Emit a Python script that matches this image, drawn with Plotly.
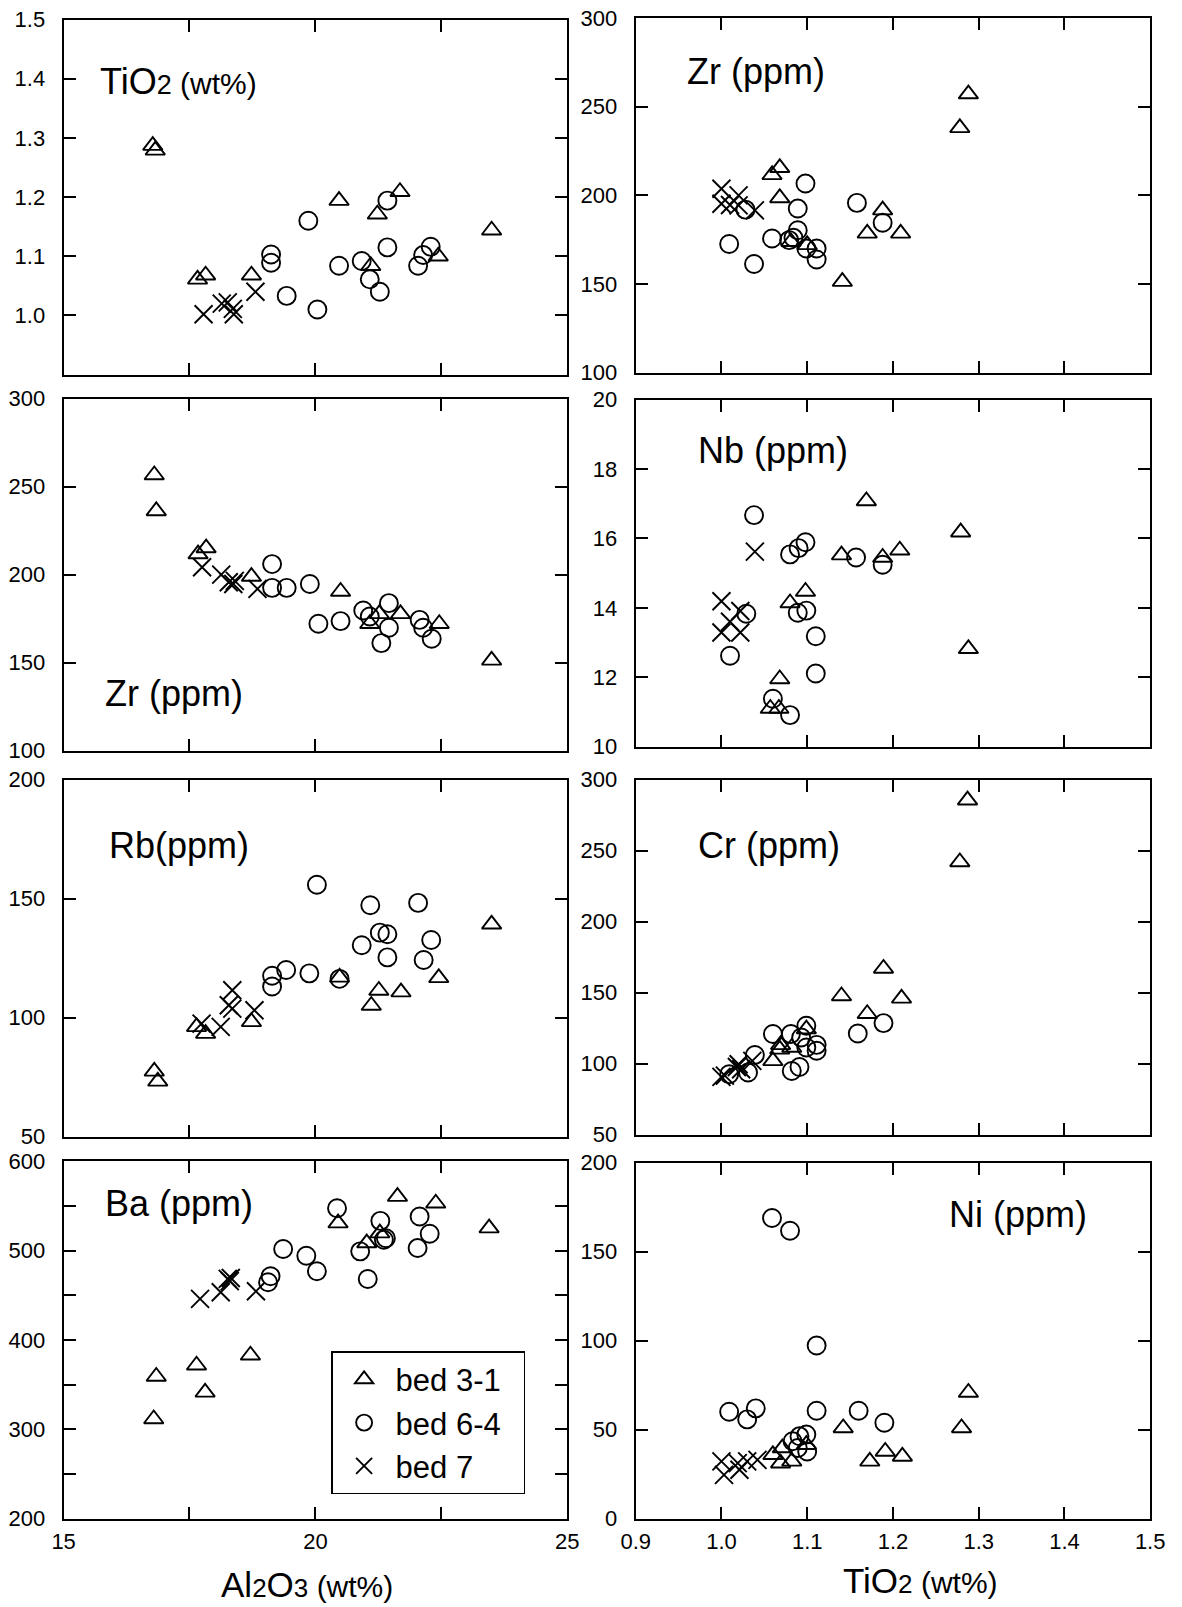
import plotly.graph_objects as go

# ---------------- data ----------------
# Panel: TiO2 (wt%) vs Al2O3 (wt%)
tio2_al_tri_x = [16.77, 16.82, 17.66, 17.82, 18.73, 20.47, 21.10, 21.23, 21.68, 22.44, 23.50]
tio2_al_tri_y = [1.287, 1.279, 1.061, 1.068, 1.068, 1.194, 1.084, 1.171, 1.209, 1.100, 1.144]
tio2_al_cir_x = [19.12, 19.12, 19.43, 19.86, 20.04, 20.47, 20.92, 21.08, 21.28, 21.43, 21.43, 22.04, 22.14, 22.29]
tio2_al_cir_y = [1.103, 1.089, 1.033, 1.160, 1.010, 1.084, 1.092, 1.061, 1.040, 1.194, 1.115, 1.084, 1.102, 1.116]
tio2_al_x_x = [17.78, 18.14, 18.26, 18.36, 18.38, 18.81]
tio2_al_x_y = [1.002, 1.020, 1.022, 1.011, 1.002, 1.040]

# Panel: Zr (ppm) vs Al2O3
zr_al_tri_x = [16.80, 16.84, 17.67, 17.83, 18.73, 20.50, 21.08, 21.27, 21.69, 22.46, 23.50]
zr_al_tri_y = [256.6, 236.2, 211.7, 215.1, 198.9, 190.4, 172.1, 177.7, 177.7, 172.1, 151.3]
zr_al_cir_x = [19.14, 19.14, 19.43, 19.89, 20.06, 20.50, 20.95, 21.08, 21.31, 21.46, 21.46, 22.07, 22.14, 22.31]
zr_al_cir_y = [206.0, 192.5, 192.5, 194.7, 172.1, 173.6, 179.6, 176.2, 161.1, 183.8, 169.8, 174.3, 169.8, 163.6]
zr_al_x_x = [17.75, 18.13, 18.28, 18.37, 18.40, 18.85]
zr_al_x_y = [204.2, 200.0, 195.7, 194.7, 196.5, 191.9]

# Panel: Rb (ppm) vs Al2O3
rb_al_tri_x = [16.80, 16.87, 17.64, 17.82, 18.73, 20.48, 21.11, 21.26, 21.70, 22.45, 23.50]
rb_al_tri_y = [77.4, 73.2, 96.1, 93.3, 98.2, 116.9, 105.1, 111.4, 110.7, 116.7, 139.2]
rb_al_cir_x = [19.14, 19.14, 19.42, 19.88, 20.03, 20.48, 20.92, 21.09, 21.28, 21.43, 21.43, 22.04, 22.15, 22.30]
rb_al_cir_y = [117.6, 113.1, 120.0, 118.6, 155.8, 116.3, 130.4, 147.2, 135.7, 135.0, 125.3, 148.2, 124.2, 132.6]
rb_al_x_x = [17.74, 18.12, 18.28, 18.35, 18.35, 18.79]
rb_al_x_y = [97.5, 96.1, 105.2, 103.8, 111.5, 103.1]

# Panel: Ba (ppm) vs Al2O3
ba_al_tri_x = [16.84, 16.79, 17.64, 17.81, 18.71, 20.45, 21.02, 21.28, 21.63, 22.39, 23.45]
ba_al_tri_y = [359.1, 311.5, 371.7, 341.3, 382.9, 530.9, 508.6, 519.7, 560.6, 553.2, 525.3]
ba_al_cir_x = [19.06, 19.11, 19.36, 19.82, 20.03, 20.43, 20.89, 21.04, 21.29, 21.36, 21.40, 22.03, 22.07, 22.27]
ba_al_cir_y = [464.7, 471.4, 501.9, 494.4, 477.0, 547.6, 499.3, 468.4, 533.5, 512.3, 514.0, 503.0, 538.3, 519.0]
ba_al_x_x = [17.71, 18.12, 18.26, 18.32, 18.30, 18.82]
ba_al_x_y = [446.1, 453.5, 468.4, 469.5, 466.0, 454.6]

# Panel: Zr (ppm) vs TiO2
zr_ti_tri_x = [1.059, 1.068, 1.068, 1.081, 1.100, 1.141, 1.170, 1.188, 1.209, 1.278, 1.288]
zr_ti_tri_y = [211.5, 215.5, 198.5, 173.8, 172.0, 151.3, 178.5, 191.6, 178.5, 238.0, 257.1]
zr_ti_cir_x = [1.009, 1.028, 1.038, 1.059, 1.079, 1.084, 1.089, 1.089, 1.098, 1.099, 1.111, 1.111, 1.158, 1.188]
zr_ti_cir_y = [172.5, 191.9, 161.2, 175.6, 174.7, 176.0, 192.5, 180.3, 206.6, 170.0, 170.0, 163.8, 195.7, 184.5]
zr_ti_x_x = [1.000, 1.000, 1.010, 1.020, 1.020, 1.039]
zr_ti_x_y = [203.7, 195.2, 194.5, 199.9, 194.3, 191.5]

# Panel: Nb (ppm) vs TiO2
nb_ti_tri_x = [1.068, 1.057, 1.067, 1.080, 1.098, 1.140, 1.169, 1.188, 1.208, 1.279, 1.288]
nb_ti_tri_y = [11.95, 11.10, 11.10, 14.14, 14.47, 15.52, 17.08, 15.45, 15.66, 16.18, 12.82]
nb_ti_cir_x = [1.010, 1.029, 1.038, 1.060, 1.080, 1.080, 1.089, 1.090, 1.098, 1.099, 1.110, 1.110, 1.157, 1.188]
nb_ti_cir_y = [12.62, 13.83, 16.67, 11.38, 15.54, 10.91, 13.86, 15.72, 15.89, 13.92, 13.18, 12.11, 15.45, 15.24]
nb_ti_x_x = [1.000, 1.000, 1.010, 1.022, 1.022, 1.039]
nb_ti_x_y = [14.19, 13.29, 13.60, 13.91, 13.29, 15.62]

# Panel: Cr (ppm) vs TiO2
cr_ti_tri_x = [1.060, 1.068, 1.069, 1.082, 1.099, 1.140, 1.170, 1.189, 1.210, 1.278, 1.287]
cr_ti_tri_y = [101.9, 110.0, 113.2, 111.3, 124.3, 147.6, 135.1, 167.0, 145.9, 242.0, 285.5]
cr_ti_cir_x = [1.009, 1.031, 1.039, 1.060, 1.081, 1.082, 1.091, 1.093, 1.099, 1.099, 1.111, 1.111, 1.159, 1.189]
cr_ti_cir_y = [92.5, 93.7, 106.1, 120.8, 120.8, 94.8, 97.6, 118.4, 126.7, 111.3, 113.2, 109.0, 121.2, 128.5]
cr_ti_x_x = [1.000, 1.004, 1.018, 1.020, 1.023, 1.036]
cr_ti_x_y = [90.6, 91.5, 97.6, 99.5, 96.0, 101.9]

# Panel: Ni (ppm) vs TiO2
ni_ti_tri_x = [1.060, 1.069, 1.071, 1.082, 1.099, 1.142, 1.173, 1.191, 1.211, 1.280, 1.288]
ni_ti_tri_y = [35.8, 31.1, 39.6, 32.1, 41.5, 50.9, 32.1, 37.7, 34.9, 50.9, 70.8]
ni_ti_cir_x = [1.009, 1.030, 1.040, 1.059, 1.080, 1.083, 1.089, 1.091, 1.099, 1.100, 1.111, 1.111, 1.160, 1.190]
ni_ti_cir_y = [60.0, 55.7, 61.9, 168.9, 161.7, 43.4, 39.6, 46.2, 47.2, 37.7, 97.2, 60.6, 60.6, 53.8]
ni_ti_x_x = [1.000, 1.003, 1.019, 1.021, 1.030, 1.042]
ni_ti_x_y = [32.1, 24.5, 31.1, 27.4, 32.1, 33.0]

# axis ticks
al_ticks = [15, 17.5, 20, 22.5, 25]
al_labels = ["15", "", "20", "", "25"]
ti_ticks = [0.9, 1.0, 1.1, 1.2, 1.3, 1.4, 1.5]
ti_labels = ["0.9", "1.0", "1.1", "1.2", "1.3", "1.4", "1.5"]

series_names = ["bed 3-1\u00a0\u00a0", "bed 6-4\u00a0\u00a0", "bed 7\u00a0\u00a0"]

# ---------------- figure ----------------
FONT = "Liberation Sans, Arial, Helvetica, sans-serif"
W, H = 1182, 1607

left_dom = [0.0422, 0.4793]
right_dom = [0.5388, 0.9854]
left_rows = [[0.7708, 0.9952], [0.5331, 0.7556], [0.2891, 0.5148], [0.0477, 0.2734]]
right_rows = [[0.7721, 0.9962], [0.5356, 0.7550], [0.2904, 0.5148], [0.0477, 0.2727]]

panels = [
    dict(col=0, row=0, d=(tio2_al_tri_x, tio2_al_tri_y, tio2_al_cir_x, tio2_al_cir_y, tio2_al_x_x, tio2_al_x_y),
         yr=[0.9, 1.5], yt=[1.0, 1.1, 1.2, 1.3, 1.4, 1.5], yl=["1.0", "1.1", "1.2", "1.3", "1.4", "1.5"],
         title='TiO<span style="font-size:27px">2</span><span style="font-size:30px"> (wt%)</span>', tp=(0.069, 0.826)),
    dict(col=0, row=1, d=(zr_al_tri_x, zr_al_tri_y, zr_al_cir_x, zr_al_cir_y, zr_al_x_x, zr_al_x_y),
         yr=[100, 300], yt=[100, 150, 200, 250, 300], yl=["100", "150", "200", "250", "300"],
         title="Zr (ppm)", tp=(0.078, 0.161)),
    dict(col=0, row=2, d=(rb_al_tri_x, rb_al_tri_y, rb_al_cir_x, rb_al_cir_y, rb_al_x_x, rb_al_x_y),
         yr=[50, 200], yt=[50, 100, 150, 200], yl=["50", "100", "150", "200"],
         title="Rb(ppm)", tp=(0.087, 0.815)),
    dict(col=0, row=3, d=(ba_al_tri_x, ba_al_tri_y, ba_al_cir_x, ba_al_cir_y, ba_al_x_x, ba_al_x_y),
         yr=[200, 600], yt=[200, 250, 300, 350, 400, 450, 500, 550, 600],
         yl=["200", "", "300", "", "400", "", "500", "", "600"],
         title="Ba (ppm)", tp=(0.078, 0.881)),
    dict(col=1, row=0, d=(zr_ti_tri_x, zr_ti_tri_y, zr_ti_cir_x, zr_ti_cir_y, zr_ti_x_x, zr_ti_x_y),
         yr=[100, 300], yt=[100, 150, 200, 250, 300], yl=["100", "150", "200", "250", "300"],
         title="Zr (ppm)", tp=(0.095, 0.848)),
    dict(col=1, row=1, d=(nb_ti_tri_x, nb_ti_tri_y, nb_ti_cir_x, nb_ti_cir_y, nb_ti_x_x, nb_ti_x_y),
         yr=[10, 20], yt=[10, 12, 14, 16, 18, 20], yl=["10", "12", "14", "16", "18", "20"],
         title="Nb (ppm)", tp=(0.118, 0.853)),
    dict(col=1, row=2, d=(cr_ti_tri_x, cr_ti_tri_y, cr_ti_cir_x, cr_ti_cir_y, cr_ti_x_x, cr_ti_x_y),
         yr=[50, 300], yt=[50, 100, 150, 200, 250, 300], yl=["50", "100", "150", "200", "250", "300"],
         title="Cr (ppm)", tp=(0.118, 0.814)),
    dict(col=1, row=3, d=(ni_ti_tri_x, ni_ti_tri_y, ni_ti_cir_x, ni_ti_cir_y, ni_ti_x_x, ni_ti_x_y),
         yr=[0, 200], yt=[0, 50, 100, 150, 200], yl=["0", "50", "100", "150", "200"],
         title="Ni (ppm)", tp=(0.606, 0.854)),
]

marker_styles = [
    dict(symbol="triangle-up-open", size=17, color="black", line=dict(width=1.9, color="black")),
    dict(symbol="circle-open", size=18, color="black", line=dict(width=1.9, color="black")),
    dict(symbol="x-thin-open", size=18, color="black", line=dict(width=1.9, color="black")),
]

fig = go.Figure()
layout = dict(
    width=W, height=H, autosize=False,
    margin=dict(l=0, r=0, t=0, b=0, pad=0),
    paper_bgcolor="white", plot_bgcolor="white",
    font=dict(family=FONT, size=22, color="black"),
    showlegend=True,
    legend=dict(x=0.2744, y=0.1535, xanchor="left", yanchor="top",
                bordercolor="black", borderwidth=1.5, bgcolor="white",
                font=dict(family=FONT, size=31, color="black"),
                itemsizing="trace", itemwidth=53, tracegroupgap=0),
)
annotations = []

axis_common = dict(showline=True, linecolor="black", linewidth=2, mirror="ticks",
                   ticks="inside", ticklen=12, tickwidth=1.6, tickcolor="black",
                   showgrid=False, zeroline=False, fixedrange=True,
                   tickfont=dict(family=FONT, size=22, color="black"))

for i, p in enumerate(panels):
    n = i + 1
    xa = "x" if n == 1 else f"x{n}"
    ya = "y" if n == 1 else f"y{n}"
    xdom = left_dom if p["col"] == 0 else right_dom
    ydom = (left_rows if p["col"] == 0 else right_rows)[p["row"]]
    bottom = p["row"] == 3
    if p["col"] == 0:
        xr, xt, xl = [15, 25], al_ticks, al_labels
    else:
        xr, xt, xl = [0.9, 1.5], ti_ticks, ti_labels
    layout["xaxis" if n == 1 else f"xaxis{n}"] = dict(
        axis_common, domain=xdom, anchor=ya, range=xr, tickmode="array",
        tickvals=xt, ticktext=xl, showticklabels=bottom, ticklabelstandoff=2)
    layout["yaxis" if n == 1 else f"yaxis{n}"] = dict(
        axis_common, domain=ydom, anchor=xa, range=p["yr"], tickmode="array",
        tickvals=p["yt"], ticktext=p["yl"], ticklabelstandoff=12)

    d = p["d"]
    for k in range(3):
        fig.add_trace(go.Scatter(
            x=d[2 * k], y=d[2 * k + 1], mode="markers", xaxis=xa, yaxis=ya,
            marker=marker_styles[k], name=series_names[k], legendgroup=series_names[k],
            showlegend=(i == 3), cliponaxis=False))

    annotations.append(dict(
        text=p["title"], xref=f"{xa} domain", yref=f"{ya} domain",
        x=p["tp"][0], y=p["tp"][1], xanchor="left", yanchor="middle",
        showarrow=False, font=dict(family=FONT, size=36, color="black")))

# axis titles
annotations.append(dict(
    text='Al<span style="font-size:26px">2</span>O<span style="font-size:26px">3</span>'
         '<span style="font-size:30px"> (wt%)</span>',
    xref="paper", yref="paper", x=300 / W, y=1 - 1597 / H, xanchor="center", yanchor="middle",
    showarrow=False, font=dict(family=FONT, size=35, color="black")))
annotations.append(dict(
    text='TiO<span style="font-size:26px">2</span><span style="font-size:30px"> (wt%)</span>',
    xref="paper", yref="paper", x=929 / W, y=1 - 1593 / H, xanchor="center", yanchor="middle",
    showarrow=False, font=dict(family=FONT, size=35, color="black")))

layout["annotations"] = annotations
fig.update_layout(**layout)
fig.write_html("out.html")
